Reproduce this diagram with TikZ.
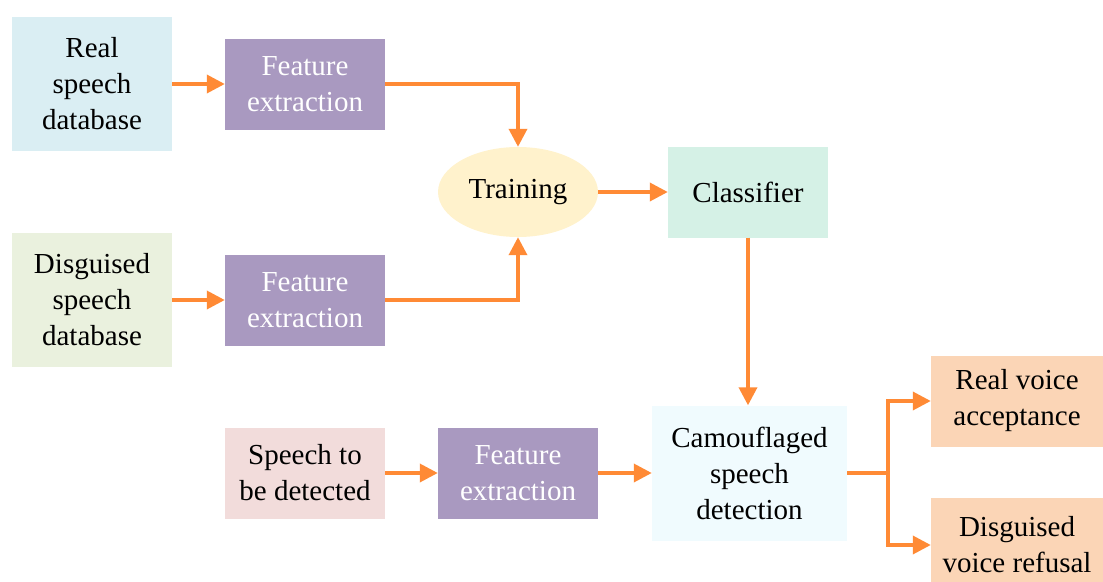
\documentclass[tikz,border=0pt]{standalone}
\usepackage{fontspec}
\setmainfont{Liberation Serif}
\usepackage{xcolor}
\usepackage{tikz}
\usetikzlibrary{arrows.meta,positioning,shapes.geometric}
\definecolor{dbBlue}{RGB}{218,238,243}
\definecolor{dbGreen}{RGB}{234,241,222}
\definecolor{fePurple}{RGB}{169,153,192}
\definecolor{trainYellow}{RGB}{255,242,204}
\definecolor{clfMint}{RGB}{213,241,230}
\definecolor{queryPink}{RGB}{242,220,219}
\definecolor{detectCyan}{RGB}{240,251,254}
\definecolor{outPeach}{RGB}{251,213,182}
\definecolor{flowOrange}{RGB}{255,138,53}

\tikzset{
    block/.style={rectangle, minimum width=160pt, minimum height=91pt, inner sep=0pt,
        align=center, font=\fontsize{29}{36}\selectfont},
    feblock/.style={block, fill=fePurple, text=white},
    flow/.style={draw=flowOrange, line width=3.6pt, -{Triangle[length=18pt,width=18pt]}}
}

\begin{document}
\begin{tikzpicture}[x=1pt,y=-1pt]
    \useasboundingbox (0,0) rectangle (1103,581);

    % training branch
    \node[block, fill=dbBlue, minimum height=134pt] (realdb) at (92,84) {Real\\speech\\database};
    \node[feblock] (fe1) at (305,84) {Feature\\extraction};
    \node[block, fill=dbGreen, minimum height=134pt] (fakedb) at (92,300) {Disguised\\speech\\database};
    \node[feblock] (fe2) at (305,300) {Feature\\extraction};
    \node[block, ellipse, fill=trainYellow, minimum height=90pt] (train) at (518,192) {Training};
    \node[block, fill=clfMint] (clf) at (748,192) {Classifier};

    % detection branch
    \node[block, fill=queryPink] (query) at (305,473) {Speech to\\be detected};
    \node[feblock] (fe3) at (518,473) {Feature\\extraction};
    \node[block, fill=detectCyan, minimum width=195pt, minimum height=135pt] (detect) at (749.5,473) {Camouflaged\\speech\\detection};
    \node[block, fill=outPeach, minimum width=172pt] (accept) at (1017,401) {Real voice\\acceptance};
    \node[block, fill=outPeach, minimum width=172pt, minimum height=94pt] (refuse) at (1017,545) {Disguised\\voice refusal};
    \coordinate (split) at (888,473);

    % connectors
    \draw[flow] (realdb.east) -- (fe1.west);
    \draw[flow] (fakedb.east) -- (fe2.west);
    \draw[flow] (fe1.east) -| (train.north);
    \draw[flow] (fe2.east) -| (train.south);
    \draw[flow] (train.east) -- (clf.west);
    \draw[flow] (clf.south) -- (clf.south |- detect.north);
    \draw[flow] (query.east) -- (fe3.west);
    \draw[flow] (fe3.east) -- (detect.west);
    \draw[flow] (detect.east) -- (split) |- (accept.west);
    \draw[flow] (split) |- (refuse.west);
\end{tikzpicture}
\end{document}
